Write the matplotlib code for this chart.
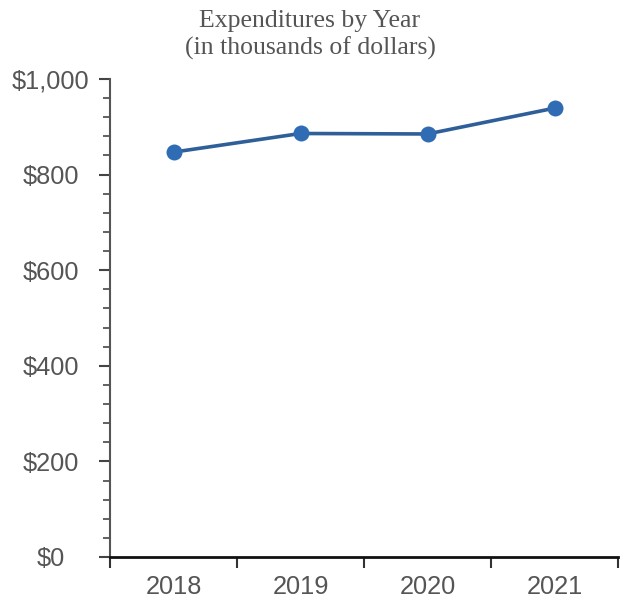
import matplotlib
matplotlib.use("Agg")
import matplotlib.pyplot as plt
from matplotlib.ticker import FixedLocator, MultipleLocator, FuncFormatter

years = ["2018", "2019", "2020", "2021"]
expenditures = [847, 886, 885, 939]
y_ticks = [0, 200, 400, 600, 800, 1000]

W, H = 624, 602
fig = plt.figure(figsize=(W / 100, H / 100), dpi=100)
ax = fig.add_axes([110 / W, (H - 557) / H, (618 - 110) / W, (557 - 79) / H])

x = list(range(len(years)))
ax.plot(x, expenditures, color="#2f5f98", lw=2.6, zorder=3,
        solid_capstyle="round")
ax.plot(x, expenditures, "o", color="#2f6cb3", ms=11.5, mew=0, zorder=4)

ax.set_xlim(-0.5, len(years) - 0.5)
ax.set_ylim(0, 1000)

# band boundaries carry the tick marks, band centres carry the labels
ax.xaxis.set_major_locator(FixedLocator([i - 0.5 for i in range(len(years) + 1)]))
ax.xaxis.set_minor_locator(FixedLocator(x))
ax.xaxis.set_major_formatter(FuncFormatter(lambda v, p: ""))
ax.xaxis.set_minor_formatter(FuncFormatter(lambda v, p: years[int(round(v))]))
ax.tick_params(axis="x", which="major", length=8, width=1.5, color="#333333",
               direction="out")
ax.tick_params(axis="x", which="minor", length=0, pad=13, labelsize=18.3,
               labelcolor="#555555")

ax.yaxis.set_major_locator(FixedLocator(y_ticks))
ax.yaxis.set_minor_locator(MultipleLocator(40))
ax.yaxis.set_major_formatter(FuncFormatter(lambda v, p: f"${v:,.0f}"))
ax.tick_params(axis="y", which="major", length=8, width=1.5, color="#444444",
               pad=34.5, labelsize=18.3, labelcolor="#555555")
ax.tick_params(axis="y", which="minor", length=5, width=1.3, color="#555555")

for lab in ax.get_xticklabels(minor=True) + ax.get_yticklabels():
    lab.set_fontfamily("Liberation Sans")
# y labels are centred in the margin column
for lab in ax.get_yticklabels():
    lab.set_horizontalalignment("center")

ax.spines["top"].set_visible(False)
ax.spines["right"].set_visible(False)
ax.spines["left"].set_color("#555555")
ax.spines["left"].set_linewidth(1.5)
ax.spines["bottom"].set_color("#111111")
ax.spines["bottom"].set_linewidth(2)
ax.spines["bottom"].set_zorder(5)

fig.text(310 / W, 1 - 35 / H, "Expenditures by Year\n(in thousands of dollars)",
         ha="center", va="center", fontsize=18.5, family="Liberation Serif",
         color="#555555", linespacing=1.25)

fig.savefig("out.png", dpi=100)
